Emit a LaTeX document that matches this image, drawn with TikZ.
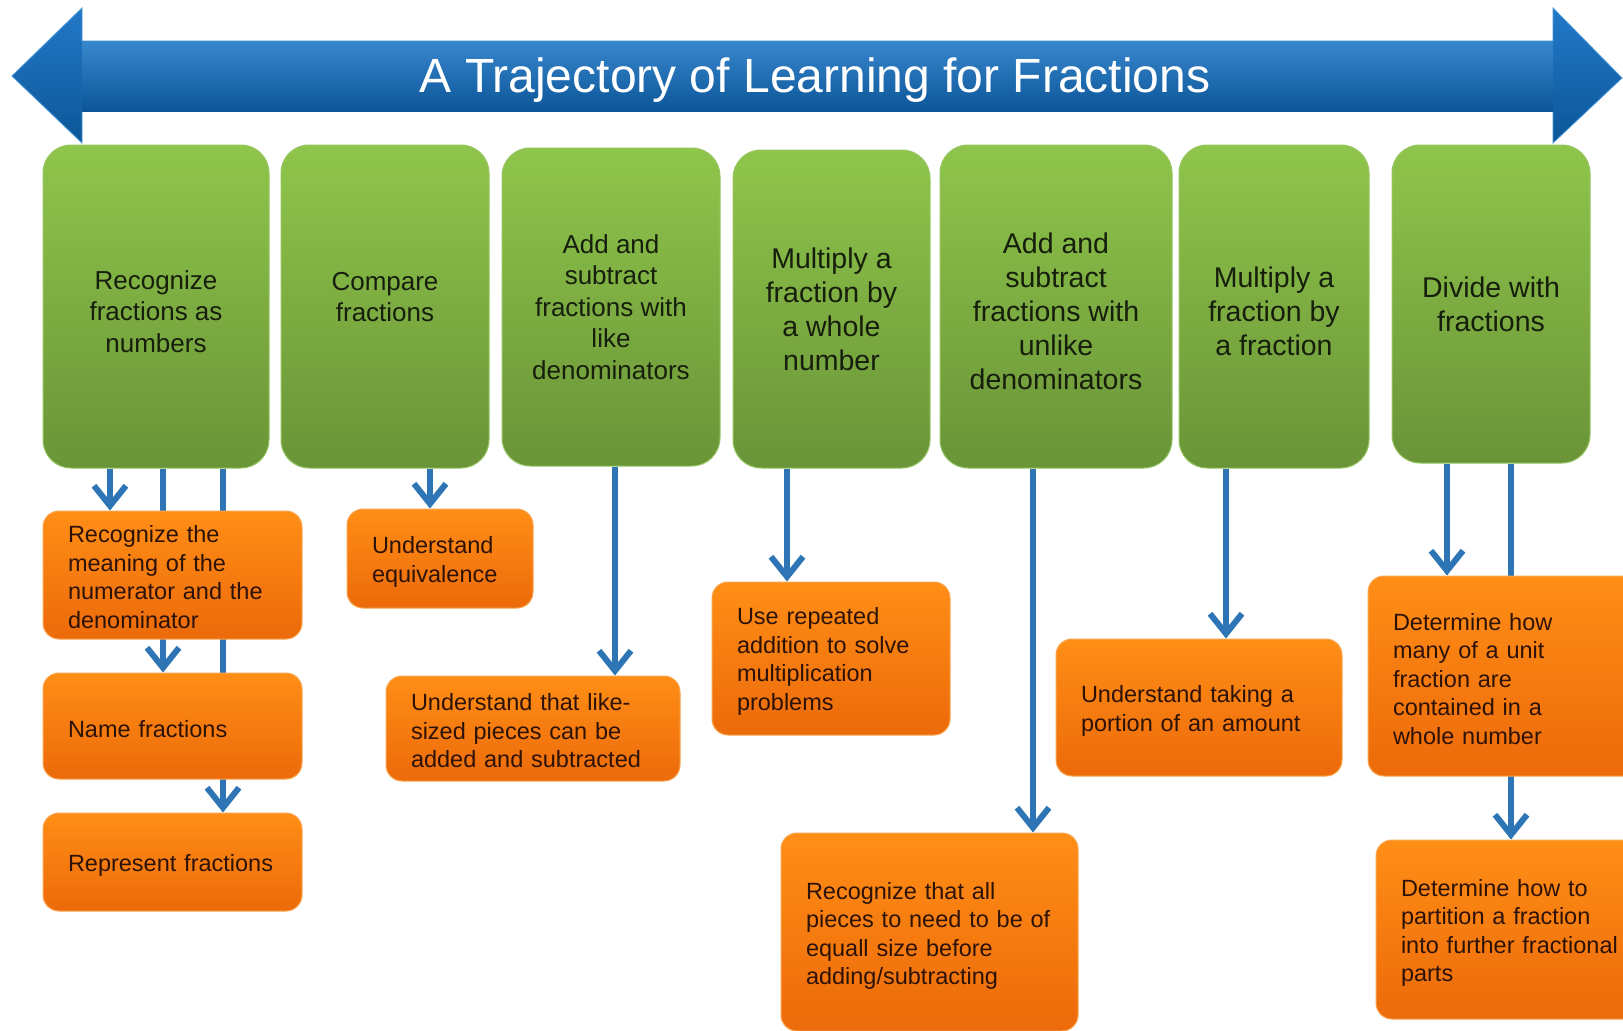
\documentclass[tikz,border=0pt]{standalone}
\usepackage{fontspec}
\setmainfont{Liberation Sans}
\usetikzlibrary{arrows.meta}
\pgfdeclarelayer{bg}
\pgfdeclarelayer{back}
\pgfsetlayers{bg,back,main}

\definecolor{gtop}{RGB}{143,197,75}
\definecolor{gmid}{RGB}{128,180,66}
\definecolor{gbot}{RGB}{106,148,56}
\definecolor{gedge}{RGB}{150,198,98}
\definecolor{otop}{RGB}{255,142,22}
\definecolor{obot}{RGB}{236,106,10}
\definecolor{oedge}{RGB}{250,165,80}
\definecolor{btop}{RGB}{34,121,200}
\definecolor{bbot}{RGB}{12,86,152}
\definecolor{bedge}{RGB}{70,150,215}
\definecolor{link}{RGB}{46,117,182}
\definecolor{gtext}{RGB}{22,30,12}
\definecolor{otext}{RGB}{45,18,8}

% invisible struts that lower / raise a text block inside its box
\newcommand\lowr[1]{\rule{0pt}{#1pt}}
\newcommand\raisr[1]{\rule[-#1pt]{0pt}{#1pt}}

\begin{document}
\begin{tikzpicture}[x=1pt,y=-1pt,
  gbox/.style={rounded corners=28pt, draw=gedge, line width=1pt,
    top color=gtop, middle color=gmid, bottom color=gbot,
    text=gtext, align=center, inner sep=0pt},
  gA/.style={font=\fontsize{26}{31.5}\selectfont},
  gB/.style={font=\fontsize{28.5}{34}\selectfont},
  obox/.style={rounded corners=16pt, draw=oedge, line width=1pt,
    top color=otop, bottom color=obot, text=otext, align=left,
    inner xsep=25pt, inner ysep=0pt,
    font=\fontsize{23.5}{28.5}\selectfont},
  conn/.style={draw=link, line width=6pt,
    -{Straight Barb[length=20pt,width=32pt]}}
]
\useasboundingbox (0,0) rectangle (1623,1031);
\clip (0,0) rectangle (1623,1031);
\begin{pgfonlayer}{bg}
  \fill[white] (0,0) rectangle (1623,1031);
\end{pgfonlayer}

% double-headed banner
\path[top color=btop, bottom color=bbot, draw=bedge, line width=0.8pt]
  (12,76) -- (82,8) -- (82,41) -- (1553,41) -- (1553,8) -- (1622,78)
  -- (1553,143) -- (1553,111) -- (82,111) -- (82,143) -- cycle;
\path[top color=btop!90!white, bottom color=bbot] (82,41) rectangle (1553,111);
\node[text=white, font=\fontsize{48}{56}\selectfont] (title) at (815,80)
  {A Trajectory of Learning for Fractions};

% main stages
\node[gbox, gA, minimum width=226pt, minimum height=323pt] (g1) at (156,306.5)
  {\lowr{29}Recognize\\fractions as\\numbers};
\node[gbox, gA, minimum width=208pt, minimum height=323pt] (g2) at (385,306.5)
  {Compare\\fractions\raisr{19}};
\node[gbox, gA, minimum width=218pt, minimum height=318pt] (g3) at (611,307)
  {Add and\\subtract\\fractions with\\like\\denominators};
\node[gbox, gB, minimum width=197pt, minimum height=318pt] (g4) at (831.5,309)
  {Multiply a\\fraction by\\a whole\\number};
\node[gbox, gB, minimum width=232pt, minimum height=323pt] (g5) at (1056,306.5)
  {\lowr{31}Add and\\subtract\\fractions with\\unlike\\denominators};
\node[gbox, gB, minimum width=190pt, minimum height=323pt] (g6) at (1274,306.5)
  {\lowr{31}Multiply a\\fraction by\\a fraction};
\node[gbox, gB, minimum width=198pt, minimum height=318pt] (g7) at (1491,304)
  {Divide with\\fractions};

% sub-skills
\node[obox, text width=209pt, minimum height=128pt] (o1) at (172.5,575)
  {\lowr{21}Recognize the\\meaning of the\\numerator and the\\denominator};
\node[obox, text width=209pt, minimum height=106pt] (o2) at (172.5,726)
  {\lowr{23}Name fractions};
\node[obox, text width=209pt, minimum height=98pt] (o3) at (172.5,862)
  {\lowr{23}Represent fractions};
\node[obox, text width=136pt, minimum height=99pt] (o4) at (440,558.5)
  {\lowr{24}Understand\\equivalence};
\node[obox, text width=244pt, minimum height=105pt] (o5) at (533,728.5)
  {\lowr{22}Understand that like-\\sized pieces can be\\added and subtracted};
\node[obox, text width=188pt, minimum height=153pt] (o6) at (831,658.5)
  {\lowr{23}Use repeated\\addition to solve\\multiplication\\problems};
\node[obox, text width=247pt, minimum height=198pt] (o7) at (929.5,932)
  {\lowr{25}Recognize that all\\pieces to need to be of\\equall size before\\adding/subtracting};
\node[obox, text width=236pt, minimum height=137pt] (o8) at (1199,707.5)
  {\lowr{24}Understand taking a\\portion of an amount};
\node[obox, text width=232pt, minimum height=200pt] (o9) at (1509,676)
  {\lowr{23}Determine how\\many of a unit\\fraction are\\contained in a\\whole number};
\node[obox, text width=224pt, minimum height=179pt] (o10) at (1513,929.5)
  {\lowr{24}Determine how to\\partition a fraction\\into further fractional\\parts};

% connector columns
\coordinate (c1) at (110,0);
\coordinate (c2) at (163,0);
\coordinate (c3) at (223,0);
\coordinate (c4) at (430,0);
\coordinate (c5) at (615,0);
\coordinate (c6) at (787,0);
\coordinate (c7) at (1033,0);
\coordinate (c8) at (1226,0);
\coordinate (c9) at (1447,0);
\coordinate (c10) at (1511,0);

\begin{pgfonlayer}{back}
  \draw[conn] (g1.south -| c1) -- (o1.north -| c1);
  \draw[conn] (g1.south -| c2) -- (o2.north -| c2);
  \draw[conn] (g1.south -| c3) -- (o3.north -| c3);
  \draw[conn] (g2.south -| c4) -- (o4.north -| c4);
  \draw[conn] (g3.south -| c5) -- (o5.north -| c5);
  \draw[conn] (g4.south -| c6) -- (o6.north -| c6);
  \draw[conn] (g5.south -| c7) -- (o7.north -| c7);
  \draw[conn] (g6.south -| c8) -- (o8.north -| c8);
  \draw[conn] (g7.south -| c9) -- (o9.north -| c9);
  \draw[conn] (g7.south -| c10) -- (o10.north -| c10);
\end{pgfonlayer}
\end{tikzpicture}
\end{document}
